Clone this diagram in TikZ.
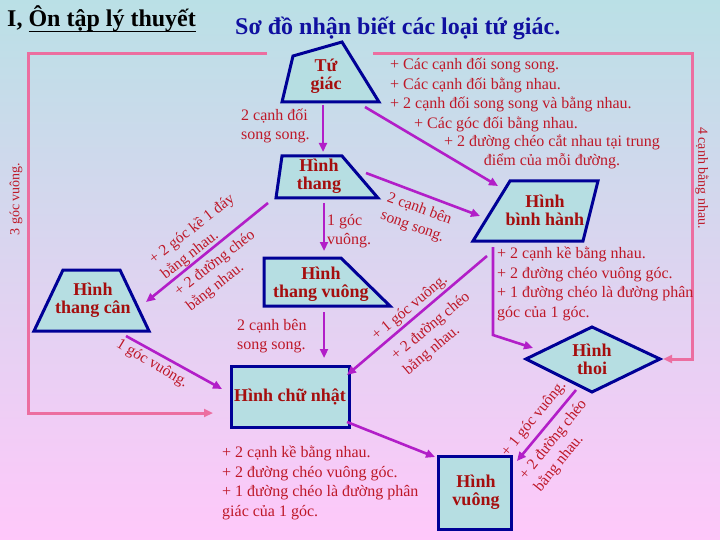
\documentclass[tikz,border=0pt]{standalone}
\usepackage{fontspec}
\setmainfont{Liberation Serif}
\usetikzlibrary{calc,arrows.meta}

\definecolor{nentren}{RGB}{186,224,230}
\definecolor{nenduoi}{RGB}{255,200,250}
\definecolor{vien}{RGB}{0,0,150}
\definecolor{ruot}{RGB}{182,222,226}
\definecolor{chuten}{RGB}{165,14,14}
\definecolor{chughi}{RGB}{190,24,40}
\definecolor{tim}{RGB}{178,30,200}
\definecolor{hong}{RGB}{236,110,160}
\definecolor{xanh}{RGB}{16,16,160}

\newcommand{\gachchan}[1]{\setbox0\hbox{#1}\rlap{\rule[-5.5pt]{\wd0}{1.8pt}}\box0}

\begin{document}
\begin{tikzpicture}[x=1pt,y=-1pt,
    hinh/.style={draw=vien,fill=ruot,line width=3pt},
    ten/.style={text=chuten,font=\fontsize{18}{18}\selectfont\bfseries,align=center,inner sep=0pt},
    ghi/.style={text=chughi,font=\fontsize{16}{19.4}\selectfont,align=left,inner sep=0pt},
    xoay/.style={text=chughi,font=\fontsize{15.5}{19}\selectfont,align=left,inner sep=0pt},
    muiten/.style={draw=tim,line width=2.6pt,-{Triangle[length=9pt,width=8pt]}},
    duonghong/.style={draw=hong,line width=3pt,-{Triangle[length=9pt,width=8pt]}}]
    \shade[top color=nentren,bottom color=nenduoi] (0,0) rectangle (720,540);
    \useasboundingbox (0,0) rectangle (720,540);

    \node[anchor=base west,inner sep=0pt,font=\fontsize{24}{28}\selectfont\bfseries] (muc) at (7,27) {I, \gachchan{Ôn tập lý thuyết}};
    \node[anchor=base west,inner sep=0pt,text=xanh,font=\fontsize{24}{28}\selectfont\bfseries] (tieude) at (235,35) {Sơ đồ nhận biết các loại tứ giác.};

    \draw[hinh] (293,56) -- (342,42) -- (379,102) -- (282,102) -- cycle;
    \draw[hinh] (282,156) -- (342,156) -- (378,198) -- (276,198) -- cycle;
    \draw[hinh] (264,258) -- (341,258) -- (390,306) -- (264,306) -- cycle;
    \draw[hinh] (63,270) -- (120,270) -- (149,331) -- (34,331) -- cycle;
    \draw[hinh] (231,366) rectangle (349,427);
    \draw[hinh] (510,181) -- (598,181) -- (583,241) -- (473,241) -- cycle;
    \draw[hinh] (526,359) -- (592,327) -- (660,359) -- (592,392) -- cycle;
    \draw[hinh] (438,456) rectangle (511,529);

    \node[ten] (tg) at (326,76) {Tứ\\giác};
    \node[ten] (ht) at (319,176) {Hình\\thang};
    \node[ten] (htv) at (321,284) {Hình\\thang vuông};
    \node[ten] (htc) at (93,300) {Hình\\thang cân};
    \node[ten] (hcn) at (290,397) {Hình chữ nhật};
    \node[ten] (hbh) at (545,210) {Hình\\bình hành};
    \node[ten] (hth) at (592,359) {Hình\\thoi};
    \node[ten] (hv) at (476,492) {Hình\\vuông};

    \draw[muiten] ($(tg)+(-3,29)$) -- ($(ht)+(4,-24)$);
    \draw[muiten] ($(tg)+(39,31)$) -- ($(hbh)+(-47,-24)$);
    \draw[muiten] ($(ht)+(47,-3)$) -- ($(hbh)+(-65,6)$);
    \draw[muiten] ($(ht)+(5,27)$) -- ($(htv)+(3,-33)$);
    \draw[muiten] ($(ht)+(-51,27)$) -- ($(htc)+(53,2)$);
    \draw[muiten] ($(htv)+(3,28)$) -- ($(hcn)+(34,-39)$);
    \draw[muiten] ($(htc)+(33,36)$) -- ($(hcn)+(-68,-8)$);
    \draw[muiten] ($(hbh)+(-52,37)$) -- ($(hbh)+(-52,125)$) -- ($(hth)+(-59,-11)$);
    \draw[muiten] ($(hbh)+(-58,46)$) -- ($(hcn)+(57,-22)$);
    \draw[muiten] ($(hcn)+(57,25)$) -- ($(hv)+(-41,-35)$);
    \draw[muiten] ($(hth)+(-16,31)$) -- ($(hv)+(41,-31)$);
    \draw[duonghong] ($(tg)+(-59,-22)$) -| ($(hcn)+(-262,16)$) -- ($(hcn)+(-77,16)$);
    \draw[duonghong] ($(tg)+(47,-22)$) -| ($(hth)+(100,0)$) -- ($(hth)+(71,0)$);

    \node[ghi,anchor=west] (n1) at (241,126) {2 cạnh đối\\song song.};
    \node[ghi,anchor=west] (n2) at (327,231) {1 góc\\vuông.};
    \node[ghi,anchor=west] (n3) at (237,336) {2 cạnh bên\\song song.};
    \node[ghi,anchor=west] (dh1) at (390,85) {+ Các cạnh đối song song.\\+ Các cạnh đối bằng nhau.\\+ 2 cạnh đối song song và bằng nhau.};
    \node[ghi,anchor=west] (dh2) at (414,124) {+ Các góc đối bằng nhau.};
    \node[ghi,align=center] (dh3) at (552,152) {+ 2 đường chéo cắt nhau tại trung\\điểm của mỗi đường.};
    \node[ghi,anchor=west] (dt) at (497,284) {+ 2 cạnh kề bằng nhau.\\+ 2 đường chéo vuông góc.\\+ 1 đường chéo là đường phân\\góc của 1 góc.};
    \node[ghi,anchor=west] (dn) at (222,483) {+ 2 cạnh kề bằng nhau.\\+ 2 đường chéo vuông góc.\\+ 1 đường chéo là đường phân\\giác của 1 góc.};

    \node[xoay,rotate=38] (c1) at (198,237) {+ 2 góc kề 1 đáy\\bằng nhau.};
    \node[xoay,rotate=38] (c2) at (221,271) {+ 2 đường chéo\\bằng nhau.};
    \node[xoay,rotate=-31] (c3) at (152,364) {1 góc vuông.};
    \node[xoay,rotate=-20] (c4) at (416,218) {2 cạnh bên\\song song.};
    \node[xoay,rotate=40] (c5) at (410,308) {+ 1 góc vuông.};
    \node[xoay,rotate=40] (c6) at (437,334) {+ 2 đường chéo\\bằng nhau.};
    \node[xoay,rotate=51] (c7) at (534,419) {+ 1 góc vuông.};
    \node[xoay,rotate=51] (c8) at (561,446) {+ 2 đường chéo\\bằng nhau.};
    \node[xoay,rotate=90,font=\fontsize{14}{17}\selectfont] (c9) at (16,199) {3 góc vuông.};
    \node[xoay,rotate=-90,font=\fontsize{14}{17}\selectfont] (c10) at (702,178) {4 cạnh bằng nhau.};
\end{tikzpicture}
\end{document}
